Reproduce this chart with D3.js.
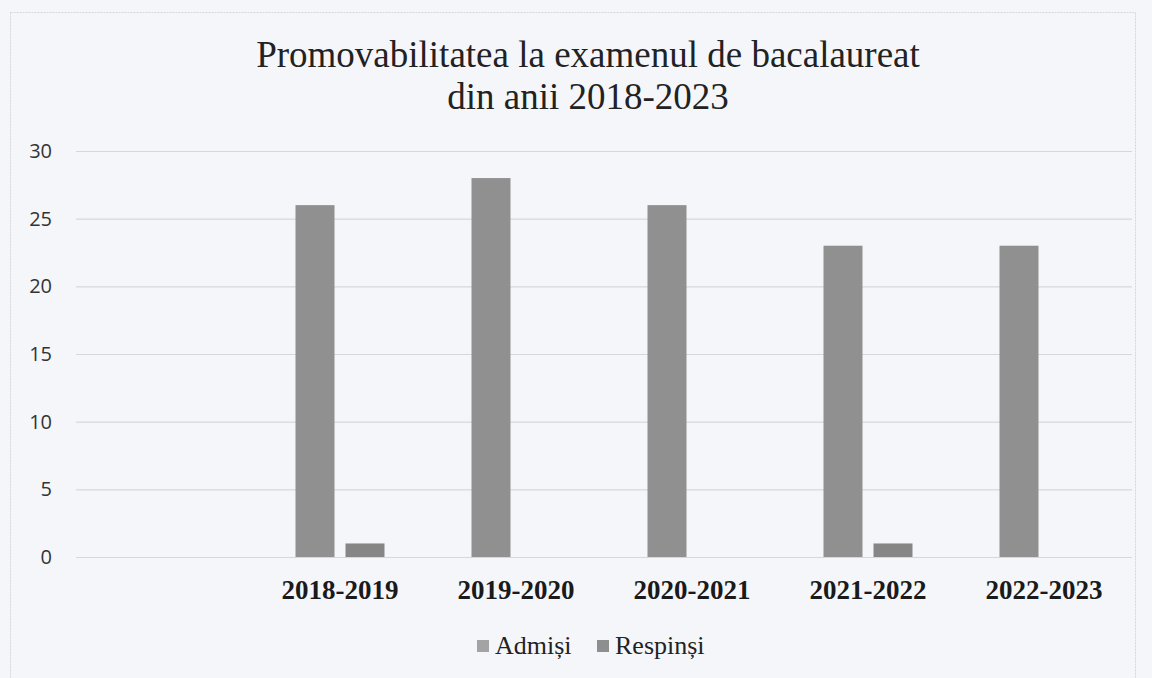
<!DOCTYPE html>
<html>
<head>
<meta charset="utf-8">
<script src="https://cdn.jsdelivr.net/npm/d3@7"></script>
<style>
  html, body { margin: 0; padding: 0; background: #f5f6fa; }
  svg { display: block; }
</style>
</head>
<body>
<div id="chart"></div>
<script>
// date
var categories = ["", "2018-2019", "2019-2020", "2020-2021", "2021-2022", "2022-2023"];
var admisi = [null, 26, 28, 26, 23, 23];
var respinsi = [null, 1, null, null, 1, null];
var seriesNames = ["Admiși", "Respinși"];
var yTicks = [0, 5, 10, 15, 20, 25, 30];
var titleLines = ["Promovabilitatea la examenul de bacalaureat", "din anii 2018-2023"];

var W = 1152, H = 678;
var plot = { left: 76, right: 1132, top: 151, bottom: 557 };
var colors = ["#909090", "#868686"];
var swatchColors = ["#a3a3a3", "#8e8e8e"];

var svg = d3.select("#chart").append("svg")
    .attr("width", W)
    .attr("height", H);

svg.append("rect")
    .attr("width", W).attr("height", H)
    .attr("fill", "#f5f6fa");

// chenarul zonei graficului
svg.append("rect")
    .attr("x", 10.5).attr("y", 12.5)
    .attr("width", 1125).attr("height", 700)
    .attr("fill", "none")
    .attr("stroke", "#d4d6dc")
    .attr("stroke-dasharray", "2,1");

//----------titlu----------
svg.selectAll("text.title")
    .data(titleLines)
    .enter().append("text")
    .attr("class", "title")
    .attr("x", 588)
    .attr("y", function (d, i) { return 67 + i * 42; })
    .attr("text-anchor", "middle")
    .style("font-family", "'Liberation Serif', 'Times New Roman', serif")
    .style("font-size", "37px")
    .style("fill", "#222")
    .text(function (d) { return d; });

//----------scale----------
var x = d3.scaleBand()
    .domain(categories)
    .range([plot.left, plot.right])
    .padding(0);
var xSub = d3.scaleBand()
    .domain([0, 1])
    .range([0, x.bandwidth()])
    .paddingInner(0.22)
    .paddingOuter(0.87);
var y = d3.scaleLinear()
    .domain([0, 30])
    .range([plot.bottom, plot.top]);

//----------grila + axa Y----------
var yAxis = d3.axisLeft(y)
    .tickValues(yTicks)
    .tickSize(-(plot.right - plot.left))
    .tickPadding(24);
var gy = svg.append("g")
    .attr("transform", "translate(" + plot.left + ",0)")
    .call(yAxis);
gy.select(".domain").remove();
gy.selectAll(".tick line")
    .attr("stroke", "#d6d7db")
    .attr("stroke-width", 1.2);
gy.selectAll(".tick text")
    .style("font-family", "'Open Sans', 'Liberation Sans', sans-serif")
    .style("font-size", "20px")
    .style("fill", "#333");

//----------bare----------
var rows = categories.map(function (c, i) {
    return { cat: c, values: [admisi[i], respinsi[i]] };
});
var groups = svg.append("g").selectAll("g.cat")
    .data(rows)
    .enter().append("g")
    .attr("class", "cat")
    .attr("transform", function (d) { return "translate(" + x(d.cat) + ",0)"; });
groups.selectAll("rect")
    .data(function (d) {
        return d.values.map(function (v, k) { return { k: k, v: v }; })
            .filter(function (e) { return e.v != null; });
    })
    .enter().append("rect")
    .attr("x", function (d) { return xSub(d.k); })
    .attr("width", xSub.bandwidth())
    .attr("y", function (d) { return y(d.v); })
    .attr("height", function (d) { return y(0) - y(d.v); })
    .attr("fill", function (d) { return colors[d.k]; });

//----------axa X----------
var xAxis = d3.axisBottom(x).tickSize(0).tickPadding(0);
var gx = svg.append("g")
    .attr("transform", "translate(0," + plot.bottom + ")")
    .call(xAxis);
gx.select(".domain").remove();
gx.selectAll(".tick text")
    .attr("dy", 0)
    .attr("y", 42)
    .style("font-family", "'Liberation Serif', 'Times New Roman', serif")
    .style("font-size", "27px")
    .style("font-weight", "bold")
    .style("fill", "#1a1a1a");

//----------legenda----------
var legendX = [477, 597];
var legend = svg.append("g").selectAll("g.leg")
    .data(seriesNames)
    .enter().append("g")
    .attr("class", "leg")
    .attr("transform", function (d, i) { return "translate(" + legendX[i] + ",0)"; });
legend.append("rect")
    .attr("x", 0).attr("y", 640)
    .attr("width", 12).attr("height", 12)
    .attr("fill", function (d, i) { return swatchColors[i]; });
legend.append("text")
    .attr("x", 18).attr("y", 654)
    .style("font-family", "'Liberation Serif', 'Times New Roman', serif")
    .style("font-size", "26px")
    .style("fill", "#222")
    .text(function (d) { return d; });
</script>
</body>
</html>
